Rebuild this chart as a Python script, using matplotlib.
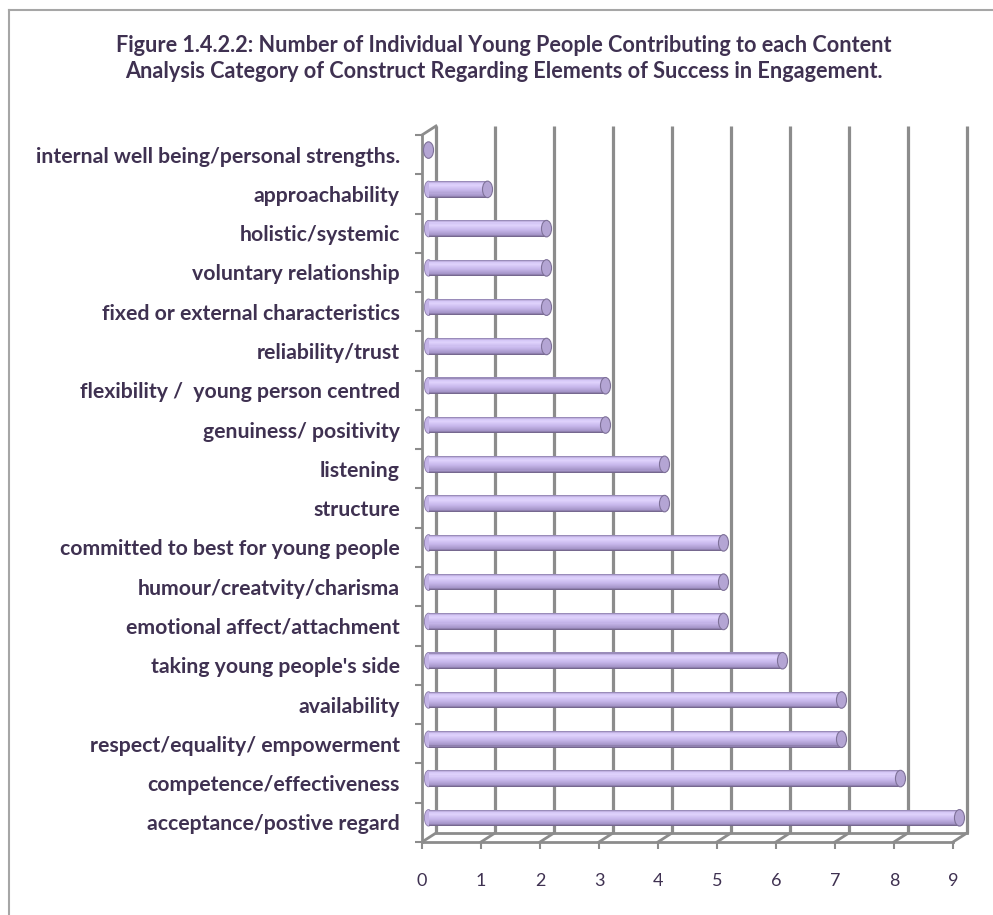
import numpy as np
import matplotlib
matplotlib.use('Agg')
import matplotlib.pyplot as plt
from matplotlib.patches import Ellipse
from matplotlib.colors import LinearSegmentedColormap

categories = ['internal well being/personal strengths.', 'approachability',
              'holistic/systemic', 'voluntary relationship',
              'fixed or external characteristics', 'reliability/trust',
              'flexibility /  young person centred', 'genuiness/ positivity',
              'listening', 'structure', 'committed to best for young people',
              'humour/creatvity/charisma', 'emotional affect/attachment',
              "taking young people's side", 'availability',
              'respect/equality/ empowerment', 'competence/effectiveness',
              'acceptance/postive regard']
values = [0, 1, 2, 2, 2, 2, 3, 3, 4, 4, 5, 5, 5, 6, 7, 7, 8, 9]
xticks = [0, 1, 2, 3, 4, 5, 6, 7, 8, 9]
title = ('Figure 1.4.2.2: Number of Individual Young People Contributing to each Content\n'
         'Analysis Category of Construct Regarding Elements of Success in Engagement.')

txt = '#3f3151'
grid_c = '#8c8c8c'
plt.rcParams['font.family'] = ['Lato', 'DejaVu Sans']

fig = plt.figure(figsize=(9.93, 9.15), dpi=100)
ax = fig.add_axes([0.425, 0.0798, 0.5347, 0.7727])

n = len(categories)
ypos = np.arange(n)[::-1]
vals = np.array(values, dtype=float)

# 3d depth offsets (data units)
dx, dy = 0.237, 0.229
bx, by = 0.11, 0.115
bh = 0.42

# back wall gridlines + floor
for k in xticks:
    ax.plot([k + dx, k + dx], [-0.5 + dy, n - 0.5 + dy], color=grid_c, lw=2.3,
            clip_on=False, zorder=1, solid_capstyle='butt')
    ax.plot([k, k + dx], [-0.5, -0.5 + dy], color=grid_c, lw=2, clip_on=False, zorder=1)
ax.plot([0, xticks[-1]], [-0.5, -0.5], color=grid_c, lw=2, clip_on=False, zorder=1)
ax.plot([dx, xticks[-1] + dx], [-0.5 + dy, -0.5 + dy], color=grid_c, lw=2, clip_on=False, zorder=1)
ax.plot([0, 0], [-0.5, n - 0.5], color=grid_c, lw=2, clip_on=False, zorder=1)
ax.plot([0, dx], [n - 0.5, n - 0.5 + dy], color=grid_c, lw=2, clip_on=False, zorder=1)

# cylinder-ish bars drawn as gradient strips
cmap = LinearSegmentedColormap.from_list('cyl', [
    (0.0, '#76688f'), (0.12, '#a595c8'), (0.45, '#c8b8ec'),
    (0.75, '#dfd2fc'), (0.9, '#d4c5f5'), (1.0, '#9a8cba')])
N = 16
for k in range(N):
    off = -bh / 2 + (k + 0.5) * bh / N
    bars = ax.barh(ypos + by + off, vals, height=bh / N * 1.05, left=bx,
                   color=cmap(k / (N - 1)), lw=0, zorder=3)
    for b in bars:
        b.set_clip_on(False)
for y, v in zip(ypos, vals):
    if v > 0:
        ax.add_patch(Ellipse((bx, y + by), 0.14, bh, facecolor='#c4b4e8',
                             edgecolor='#8a7ca8', lw=0.6, zorder=2, clip_on=False))
    ax.add_patch(Ellipse((bx + v, y + by), 0.17, bh, facecolor='#b4a5d4',
                         edgecolor='#7e7198', lw=0.8, zorder=4, clip_on=False))

ax.set_xlim(0, xticks[-1])
ax.set_ylim(-0.5, n - 0.5)
for s in ax.spines.values():
    s.set_visible(False)

ax.set_xticks(xticks)
ax.set_xticklabels([str(t) for t in xticks], fontsize=13, color=txt)
ax.tick_params(axis='x', length=5, width=1.5, color=grid_c, pad=17)

ax.set_yticks(ypos)
ax.set_yticklabels(categories, fontsize=15.3, fontweight='bold', color=txt)
ax.tick_params(axis='y', length=0, pad=16)
ax.set_yticks(np.arange(-0.5, n, 1.0), minor=True)
ax.tick_params(axis='y', which='minor', length=5, width=1.5, color=grid_c)

fig.text(0.507, 0.936, title, ha='center', va='center', fontsize=15.6,
         fontweight='bold', color=txt, linespacing=1.3)

# outer frame
fig.add_artist(plt.Line2D([9 / 993, 9 / 993], [0, 1 - 10 / 915], color='#a6a6a6', lw=1.5))
fig.add_artist(plt.Line2D([9 / 993, 1], [1 - 10 / 915, 1 - 10 / 915], color='#a6a6a6', lw=1.5))

fig.savefig('out.png', dpi=100)
